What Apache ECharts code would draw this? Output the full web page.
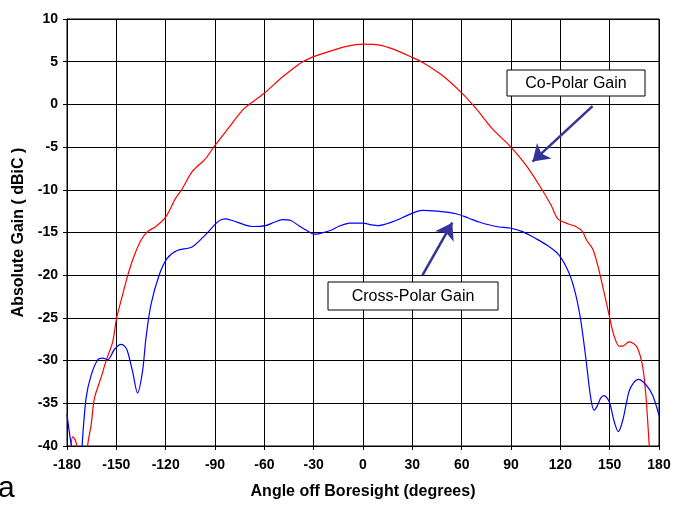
<!DOCTYPE html>
<html>
<head>
<meta charset="utf-8">
<script src="https://cdn.jsdelivr.net/npm/echarts@6/dist/echarts.min.js"></script>
<style>
html, body { margin: 0; padding: 0; background: #fff; }
#chart { width: 674px; height: 505px; }
</style>
</head>
<body>
<div id="chart"></div>
<script>
// angles (deg) and gain (dBiC); values under -40 just run off the bottom
var coAngles = [-178, -176.5, -175, -173.5, -172, -169, -167.5, -165.3, -163.3, -159.3, -156.2, -152.2, -149.8, -146.2, -143.2, -139.1, -135, -131, -126, -120, -114, -110, -104, -96, -90, -81.5, -73.4, -67.4, -59.5, -49, -39, -36.6, -30, -19, -10, 0, 10, 18, 30, 36.3, 48.5, 59.7, 68.8, 78.9, 90, 99.2, 107.3, 114.4, 118.5, 125, 129.4, 133.5, 136, 139.6, 142, 144.7, 149.7, 152.5, 155.8, 158, 161.8, 164.5, 166.9, 169.9, 172, 174, 175];
var coGain = [-41, -38.9, -39.3, -40.5, -45, -45, -40, -37.5, -34.4, -32.0, -30.0, -27.8, -25.0, -22.3, -20.1, -17.7, -15.9, -14.9, -14.3, -13.2, -11.0, -9.9, -7.9, -6.4, -4.8, -2.7, -0.7, 0.25, 1.4, 3.2, 4.7, 5.0, 5.6, 6.3, 6.8, 7.05, 6.95, 6.5, 5.5, 4.9, 3.35, 1.4, -0.5, -2.9, -5.0, -7.15, -9.5, -11.8, -13.4, -14.0, -14.3, -14.9, -15.9, -16.9, -18.3, -20.4, -24.7, -27.0, -28.3, -28.3, -27.8, -28.0, -28.5, -30.5, -34.0, -39.8, -43];

var crossAngles = [-180, -178.5, -177, -175, -172, -171, -168.4, -165.3, -161.3, -158.3, -155.2, -151.2, -147.2, -145, -143.2, -140.1, -137.1, -134.1, -132, -129, -124, -119, -113, -104, -96, -88, -84, -79.5, -72, -67.4, -59.3, -54, -49, -44, -39, -33, -30, -26, -19, -15, -8, 0, 5, 9, 14, 20, 28, 36, 45, 56.6, 64, 71, 81, 90, 97, 105, 112, 119, 125.4, 129.4, 132.5, 135.5, 138.5, 140.5, 142.5, 144.5, 146.6, 149.7, 152.7, 155.2, 157.8, 161.8, 164.5, 167.5, 171.9, 176, 180];
var crossGain = [-36.3, -38.5, -40.5, -45, -45, -40.5, -34.4, -31.7, -29.9, -29.7, -29.9, -28.7, -28.1, -28.3, -28.9, -31.3, -33.8, -31.3, -27.4, -23.5, -20.0, -18.0, -17.1, -16.7, -15.3, -13.7, -13.4, -13.6, -14.1, -14.3, -14.2, -13.8, -13.5, -13.6, -14.2, -14.9, -15.2, -15.1, -14.7, -14.3, -13.9, -13.9, -14.1, -14.2, -14.0, -13.6, -12.9, -12.4, -12.5, -12.8, -13.3, -13.8, -14.3, -14.5, -14.9, -15.7, -16.5, -17.6, -19.8, -22.3, -25.4, -29.7, -34.4, -35.8, -35.3, -34.4, -34.1, -34.8, -37.1, -38.3, -37.1, -33.6, -32.6, -32.2, -32.8, -34.0, -36.4];

// annotation arrows, [from, to] in data coords
var coArrow = [[139.6, -0.2], [103.1, -6.7]];
var crossArrow = [[36.2, -20.0], [54.3, -13.85]];

var font = "'Liberation Sans', Arial, sans-serif";

function pairs(xs, ys) {
	var out = [];
	for (var i = 0; i < xs.length; i++) {
		out.push([xs[i], ys[i]]);
	}
	return out;
}

function arrowLine(a) {
	return [{ coord: a[0] }, { coord: a[1] }];
}

var myChart = echarts.init(document.getElementById('chart'));

var option = {
	animation: false,
	backgroundColor: '#fff',
	grid: {
		left: 67,
		right: 15,
		top: 19,
		bottom: 55,
		show: true,
		borderColor: '#000',
		borderWidth: 1
	},
	xAxis: {
		type: 'value',
		min: -180,
		max: 180,
		interval: 30,
		name: 'Angle off Boresight (degrees)',
		nameLocation: 'middle',
		nameGap: 38,
		nameTextStyle: { fontFamily: font, fontWeight: 'bold', fontSize: 16, color: '#000' },
		axisLine: { onZero: false, lineStyle: { color: '#000', width: 1 } },
		axisTick: { show: true, length: 4, lineStyle: { color: '#000' } },
		axisLabel: { fontFamily: font, fontWeight: 'bold', fontSize: 14, color: '#000', margin: 12 },
		splitLine: { show: true, lineStyle: { color: '#000', width: 1 } }
	},
	yAxis: {
		type: 'value',
		min: -40,
		max: 10,
		interval: 5,
		name: 'Absolute Gain ( dBiC )',
		nameLocation: 'middle',
		nameGap: 37,
		nameTextStyle: { fontFamily: font, fontWeight: 'bold', fontSize: 16, color: '#000' },
		axisLine: { onZero: false, lineStyle: { color: '#000', width: 1 } },
		axisTick: { show: true, length: 4, lineStyle: { color: '#000' } },
		axisLabel: { fontFamily: font, fontWeight: 'bold', fontSize: 14, color: '#000', margin: 9 },
		splitLine: { show: true, lineStyle: { color: '#000', width: 1 } }
	},
	series: [
		{
			name: 'Co-Polar Gain',
			type: 'line',
			data: pairs(coAngles, coGain),
			showSymbol: false,
			smooth: 0.3,
			clip: true,
			lineStyle: { color: '#ff0000', width: 1.2 },
			markLine: {
				silent: true,
				symbol: ['none', 'arrow'],
				symbolSize: 16,
				label: { show: false },
				lineStyle: { color: '#333399', width: 2.5, type: 'solid' },
				data: [arrowLine(coArrow)]
			}
		},
		{
			name: 'Cross-Polar Gain',
			type: 'line',
			data: pairs(crossAngles, crossGain),
			showSymbol: false,
			smooth: 0.3,
			clip: true,
			lineStyle: { color: '#0000ff', width: 1.2 },
			markLine: {
				silent: true,
				symbol: ['none', 'arrow'],
				symbolSize: 16,
				label: { show: false },
				lineStyle: { color: '#333399', width: 2.5, type: 'solid' },
				data: [arrowLine(crossArrow)]
			}
		}
	],
	graphic: [
		{
			type: 'rect',
			shape: { x: 507, y: 70, width: 138, height: 26 },
			style: { fill: '#fff', stroke: '#000', lineWidth: 1 },
			z: 100
		},
		{
			type: 'text',
			x: 576, y: 84,
			style: { text: 'Co-Polar Gain', font: '16px ' + font, fill: '#000', align: 'center', verticalAlign: 'middle' },
			z: 101
		},
		{
			type: 'rect',
			shape: { x: 328, y: 282, width: 170, height: 28 },
			style: { fill: '#fff', stroke: '#000', lineWidth: 1 },
			z: 100
		},
		{
			type: 'text',
			x: 413, y: 297,
			style: { text: 'Cross-Polar Gain', font: '16px ' + font, fill: '#000', align: 'center', verticalAlign: 'middle' },
			z: 101
		},
		{
			type: 'text',
			x: -2, y: 474,
			style: { text: 'a', font: '30px ' + font, fill: '#000' },
			z: 101
		}
	]
};

myChart.setOption(option);
</script>
</body>
</html>
